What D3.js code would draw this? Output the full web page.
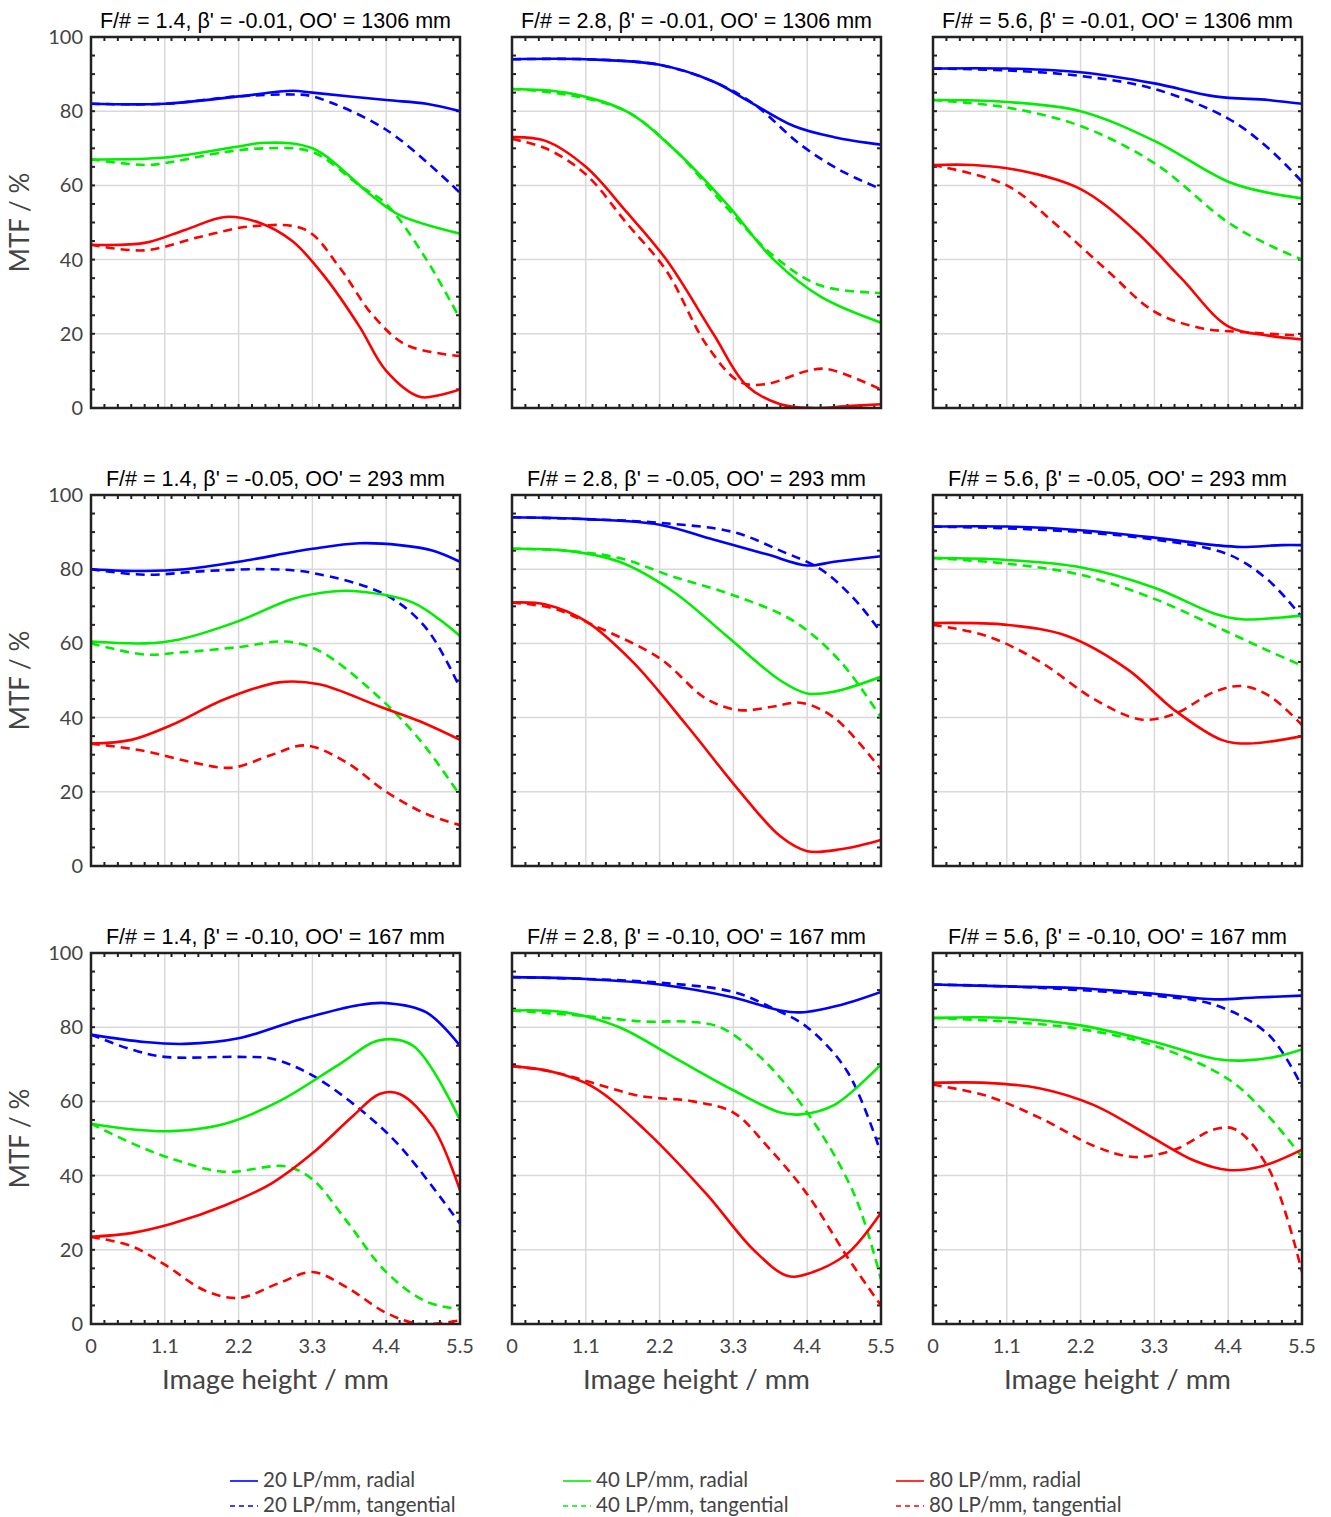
<!DOCTYPE html>
<html><head><meta charset="utf-8">
<script src="https://cdn.jsdelivr.net/npm/d3@7"></script>
<style>body{margin:0;background:#fff}</style>
</head><body>
<div id="chart"></div>
<script>
var titles = [
  "F/# = 1.4, β' = -0.01, OO' = 1306 mm", "F/# = 2.8, β' = -0.01, OO' = 1306 mm", "F/# = 5.6, β' = -0.01, OO' = 1306 mm",
  "F/# = 1.4, β' = -0.05, OO' = 293 mm", "F/# = 2.8, β' = -0.05, OO' = 293 mm", "F/# = 5.6, β' = -0.05, OO' = 293 mm",
  "F/# = 1.4, β' = -0.10, OO' = 167 mm", "F/# = 2.8, β' = -0.10, OO' = 167 mm", "F/# = 5.6, β' = -0.10, OO' = 167 mm"
];
var xTicks = [0, 1.1, 2.2, 3.3, 4.4, 5.5];
var yTicks = [0, 20, 40, 60, 80, 100];
var seriesNames = ["20 LP/mm, radial", "20 LP/mm, tangential", "40 LP/mm, radial", "40 LP/mm, tangential", "80 LP/mm, radial", "80 LP/mm, tangential"];
var seriesColors = ["#0000ff", "#0000ff", "#00ee00", "#00ee00", "#ff0000", "#ff0000"];
var seriesDashed = [false, true, false, true, false, true];

// each panel: six series in order of seriesNames, as [x, MTF] pairs
var p1 = [
  [[0,82],[1.1,82],[2.2,84],[3.0,85.5],[3.3,85],[4.4,83],[5.0,82],[5.5,80]],
  [[0,82],[1.1,82],[2.2,84],[3.0,84.5],[3.3,84],[4.4,75],[5.5,58]],
  [[0,67],[1.1,67.5],[2.2,70.5],[2.6,71.5],[3.3,70],[4.2,57],[4.6,52],[5.5,47]],
  [[0,67],[0.8,65.5],[1.1,66],[2.0,69],[2.6,70],[3.3,69],[4.0,60],[4.4,55],[5.0,40],[5.5,24]],
  [[0,44],[0.8,44.5],[1.4,48],[2.0,51.5],[2.5,50],[3.0,45],[3.5,35],[4.0,22],[4.4,10],[4.9,3],[5.2,3.5],[5.5,5]],
  [[0,44],[0.8,42.5],[1.6,46],[2.4,49],[3.2,48],[3.7,38],[4.2,25],[4.7,17],[5.5,14]]
];
var p2 = [
  [[0,94],[1.1,94],[2.2,92.5],[3.0,88],[3.5,83],[4.2,76],[4.8,73],[5.5,71]],
  [[0,94],[1.1,94],[2.2,92.5],[3.0,88],[3.6,82],[4.3,71],[4.9,64],[5.5,59]],
  [[0,86],[0.8,85],[1.7,80],[2.4,70],[3.2,55],[3.9,40],[4.6,30],[5.5,23]],
  [[0,86],[0.8,84.5],[1.7,80],[2.4,70],[3.2,54],[3.9,41],[4.6,33],[5.5,31]],
  [[0,73],[0.5,72],[1.1,65],[1.7,53],[2.3,40],[3.0,20],[3.5,6],[4.0,1],[4.5,0],[5.0,0.5],[5.5,1]],
  [[0,72.5],[0.5,70],[1.1,63],[1.7,50],[2.3,37],[2.9,17],[3.4,7],[3.8,6.5],[4.4,10],[4.7,10.5],[5.5,5]]
];
var p3 = [
  [[0,91.5],[1.1,91.5],[2.2,90.5],[3.3,87.5],[4.2,84],[5.0,83],[5.5,82]],
  [[0,91.5],[1.1,91],[2.2,89.5],[3.3,86],[4.4,78],[5.0,70],[5.5,61]],
  [[0,83],[1.1,82.5],[2.2,80],[3.3,72],[4.4,61],[5.0,58],[5.5,56.5]],
  [[0,83],[1.1,81],[2.2,76],[3.3,66],[4.4,50],[5.0,44],[5.5,40]],
  [[0,65.5],[0.6,65.5],[1.3,64],[2.2,59],[3.0,48],[3.7,35],[4.4,22],[5.0,19.5],[5.5,18.5]],
  [[0,65.5],[1.1,60],[1.8,50],[2.6,37],[3.3,26],[4.0,21.5],[4.6,20.5],[5.5,19.5]]
];
var p4 = [
  [[0,80],[0.8,79.5],[1.4,80],[2.2,82],[3.3,85.5],[4.0,87],[4.6,86.5],[5.1,85],[5.5,82]],
  [[0,80],[0.8,78.5],[1.7,79.5],[2.6,80],[3.3,79],[4.4,73],[5.0,64],[5.5,48]],
  [[0,60.5],[0.8,60],[1.3,61],[2.2,66],[3.0,72],[3.6,74],[4.0,74],[4.8,71],[5.5,62]],
  [[0,60],[0.8,57],[1.3,57.5],[2.2,59],[2.9,60.5],[3.4,58],[4.2,47],[4.9,34],[5.5,19]],
  [[0,33],[0.6,34],[1.2,38],[2.0,45],[2.8,49.5],[3.4,49],[4.3,43],[4.9,39],[5.5,34]],
  [[0,33],[0.8,31],[1.5,28],[2.1,26.5],[2.7,30],[3.2,32.5],[3.8,28],[4.4,20],[5.0,14],[5.5,11]]
];
var p5 = [
  [[0,94],[1.1,93.5],[2.2,92],[3.0,88],[3.8,84],[4.4,81],[4.8,82],[5.5,83.5]],
  [[0,94],[1.1,93.5],[2.2,92.5],[3.3,90],[4.0,85],[4.6,80],[5.1,72],[5.5,63]],
  [[0,85.5],[0.8,85],[1.6,82],[2.4,74],[3.2,62],[4.0,50],[4.4,46.5],[4.8,47],[5.5,51]],
  [[0,85.5],[0.8,85],[1.6,83],[2.4,78],[3.3,73],[4.2,66],[4.9,55],[5.5,40]],
  [[0,71],[0.5,70.5],[1.1,66],[1.8,55],[2.6,38],[3.4,20],[4.0,8],[4.4,4],[4.9,4.5],[5.5,7]],
  [[0,71],[0.6,69.5],[1.2,65],[2.2,56],[2.9,45],[3.4,42],[3.9,43],[4.3,44],[4.8,40],[5.5,26]]
];
var p6 = [
  [[0,91.5],[1.1,91.5],[2.2,90.5],[3.3,88.5],[4.2,86.5],[4.6,86],[5.2,86.5],[5.5,86.5]],
  [[0,91.5],[1.1,91],[2.2,90],[3.3,88],[4.4,84],[5.0,77],[5.5,67]],
  [[0,83],[1.1,82.5],[2.2,80.5],[3.3,75],[4.2,68],[4.6,66.5],[5.2,67],[5.5,67.5]],
  [[0,83],[1.1,81.5],[2.2,78.5],[3.3,72],[4.4,63],[5.0,58],[5.5,54]],
  [[0,65.5],[1.1,65],[2.0,62],[2.9,53],[3.6,42],[4.3,34],[4.7,33],[5.5,35]],
  [[0,65],[0.8,62],[1.6,55],[2.4,45],[3.1,39.5],[3.6,41],[4.2,47],[4.6,48.5],[5.0,46],[5.5,38]]
];
var p7 = [
  [[0,78],[0.8,76],[1.4,75.5],[2.2,77],[3.1,82],[4.0,86],[4.4,86.5],[5.0,84],[5.5,75]],
  [[0,78],[0.6,74],[1.1,72],[2.2,72],[2.7,71.5],[3.3,67],[4.0,58],[4.6,48],[5.5,27]],
  [[0,54],[0.6,52.5],[1.2,52],[2.0,54],[2.8,60],[3.7,70],[4.3,76.5],[4.8,75],[5.5,55]],
  [[0,54],[0.7,48],[1.3,44],[2.0,41],[2.9,42.5],[3.3,39],[3.8,28],[4.4,14],[5.0,6],[5.5,4]],
  [[0,23.5],[0.6,24.5],[1.2,27],[2.0,32],[2.7,38],[3.3,46],[3.9,56],[4.3,62],[4.6,62],[5.1,53],[5.5,36]],
  [[0,23.5],[0.6,21],[1.1,16],[1.7,9],[2.2,7],[2.8,11],[3.3,14],[3.8,10],[4.4,3],[4.9,0],[5.5,1]]
];
var p8 = [
  [[0,93.5],[1.1,93],[2.2,91.5],[3.3,88],[4.0,84.5],[4.3,84],[4.9,86],[5.5,89.5]],
  [[0,93.5],[1.1,93],[2.2,92],[3.3,89.5],[3.9,85],[4.4,80],[5.0,68],[5.5,46]],
  [[0,84.5],[0.8,84],[1.6,80],[2.4,72],[3.3,63],[4.0,57],[4.3,56.5],[4.8,59],[5.5,70]],
  [[0,84.5],[1.1,83],[2.0,81.5],[2.6,81.5],[3.1,80],[3.7,72],[4.4,57],[5.1,35],[5.5,12]],
  [[0,69.5],[0.6,68],[1.2,64],[2.0,52],[2.9,35],[3.6,20],[4.1,13],[4.4,13.5],[5.0,19],[5.5,30]],
  [[0,69.5],[0.6,68],[1.2,65],[1.9,61.5],[2.7,60],[3.3,57],[3.8,48],[4.4,35],[5.0,18],[5.5,5]]
];
var p9 = [
  [[0,91.5],[1.1,91],[2.2,90.5],[3.3,89],[4.2,87.5],[4.8,88],[5.5,88.5]],
  [[0,91.5],[1.1,91],[2.2,90],[3.3,88.5],[4.2,86],[5.0,78],[5.5,64]],
  [[0,82.5],[1.1,82.5],[2.2,80.5],[3.3,76],[4.2,71.5],[4.6,71],[5.1,72],[5.5,74]],
  [[0,82.5],[1.1,81.5],[2.2,79.5],[3.3,75],[4.4,66],[5.0,56],[5.5,45]],
  [[0,65],[0.8,65],[1.6,63.5],[2.4,59],[3.2,51],[3.9,44],[4.4,41.5],[4.9,42.5],[5.5,47]],
  [[0,64.5],[0.8,61.5],[1.6,55.5],[2.4,48],[3.0,45],[3.6,47],[4.2,52.5],[4.5,52.5],[5.0,42],[5.5,14]]
];
var panels = [p1, p2, p3, p4, p5, p6, p7, p8, p9];

var W = 1331, H = 1517;
var colX = [91, 512, 933], rowY = [37, 495, 953];
var pw = 369, ph = 371;
var svg = d3.select("#chart").append("svg").attr("width", W).attr("height", H);
var sans = "'Liberation Sans', Arial, sans-serif";
var light = "Lato, 'Open Sans', sans-serif";

panels.forEach(function(series, i) {
  var c = i % 3, r = Math.floor(i / 3);
  var x = d3.scaleLinear().domain([0, 5.5]).range([0, pw]);
  var y = d3.scaleLinear().domain([0, 100]).range([ph, 0]);
  var g = svg.append("g").attr("transform", `translate(${colX[c]},${rowY[r]})`);

  // grid
  g.selectAll(".gx").data(xTicks.slice(1, -1)).enter().append("line")
    .attr("x1", d => x(d)).attr("x2", d => x(d)).attr("y1", 0).attr("y2", ph)
    .attr("stroke", "#d9d9d9").attr("stroke-width", 1.5);
  g.selectAll(".gy").data(yTicks.slice(1, -1)).enter().append("line")
    .attr("y1", d => y(d)).attr("y2", d => y(d)).attr("x1", 0).attr("x2", pw)
    .attr("stroke", "#d9d9d9").attr("stroke-width", 1.5);

  // minor ticks
  var mx = d3.range(0.2, 5.5, 0.2), my = d3.range(5, 100, 5);
  mx.forEach(function(v) {
    g.append("line").attr("x1", x(v)).attr("x2", x(v)).attr("y1", ph).attr("y2", ph - 4).attr("stroke", "#222").attr("stroke-width", 2);
    g.append("line").attr("x1", x(v)).attr("x2", x(v)).attr("y1", 0).attr("y2", 4).attr("stroke", "#222").attr("stroke-width", 2);
  });
  my.forEach(function(v) {
    g.append("line").attr("y1", y(v)).attr("y2", y(v)).attr("x1", 0).attr("x2", 4).attr("stroke", "#222").attr("stroke-width", 2);
    g.append("line").attr("y1", y(v)).attr("y2", y(v)).attr("x1", pw).attr("x2", pw - 4).attr("stroke", "#222").attr("stroke-width", 2);
  });

  var line = d3.line().x(d => x(d[0])).y(d => y(d[1])).curve(d3.curveCatmullRom.alpha(0.5));
  var clip = "clip" + i;
  g.append("clipPath").attr("id", clip).append("rect").attr("x", 0).attr("y", -2).attr("width", pw).attr("height", ph + 2);
  series.forEach(function(pts, k) {
    g.append("path").attr("d", line(pts)).attr("fill", "none")
      .attr("clip-path", `url(#${clip})`)
      .attr("stroke", seriesColors[k]).attr("stroke-width", 2.6)
      .attr("stroke-dasharray", seriesDashed[k] ? "9,6" : null);
  });

  g.append("rect").attr("width", pw).attr("height", ph).attr("fill", "none").attr("stroke", "#222").attr("stroke-width", 2.5);

  g.append("text").attr("x", pw / 2).attr("y", -9).attr("text-anchor", "middle")
    .style("font-family", sans).style("font-size", "21.5px").attr("fill", "#000").text(titles[i]);

  if (c === 0) {
    g.selectAll(".yl").data(yTicks).enter().append("text")
      .attr("x", -8).attr("y", d => y(d) + 7).attr("text-anchor", "end")
      .style("font-family", light).style("font-size", "20px").attr("fill", "#444").text(d => d);
    g.append("text").attr("transform", `translate(-62,${ph / 2}) rotate(-90)`).attr("text-anchor", "middle")
      .style("font-family", light).style("font-size", "26px").attr("fill", "#444").text("MTF / %");
  }
  if (r === 2) {
    g.selectAll(".xl").data(xTicks).enter().append("text")
      .attr("x", d => x(d)).attr("y", ph + 29).attr("text-anchor", "middle")
      .style("font-family", light).style("font-size", "20px").attr("fill", "#444").text(d => d);
    g.append("text").attr("x", pw / 2).attr("y", ph + 65).attr("text-anchor", "middle")
      .style("font-family", light).style("font-size", "27.5px").attr("fill", "#444").text("Image height / mm");
  }
});

// legend
var legX = [230, 563, 896], legY = [1481, 1506];
seriesNames.forEach(function(n, k) {
  var lx = legX[Math.floor(k / 2)], ly = legY[k % 2];
  svg.append("line").attr("x1", lx).attr("x2", lx + 28).attr("y1", ly).attr("y2", ly)
    .attr("stroke", seriesColors[k]).attr("stroke-width", 1.6)
    .attr("stroke-dasharray", seriesDashed[k] ? "5,4" : null);
  svg.append("text").attr("x", lx + 33).attr("y", ly + 6)
    .style("font-family", light).style("font-size", "20.5px").attr("fill", "#444").text(n);
});
</script>
</body></html>
